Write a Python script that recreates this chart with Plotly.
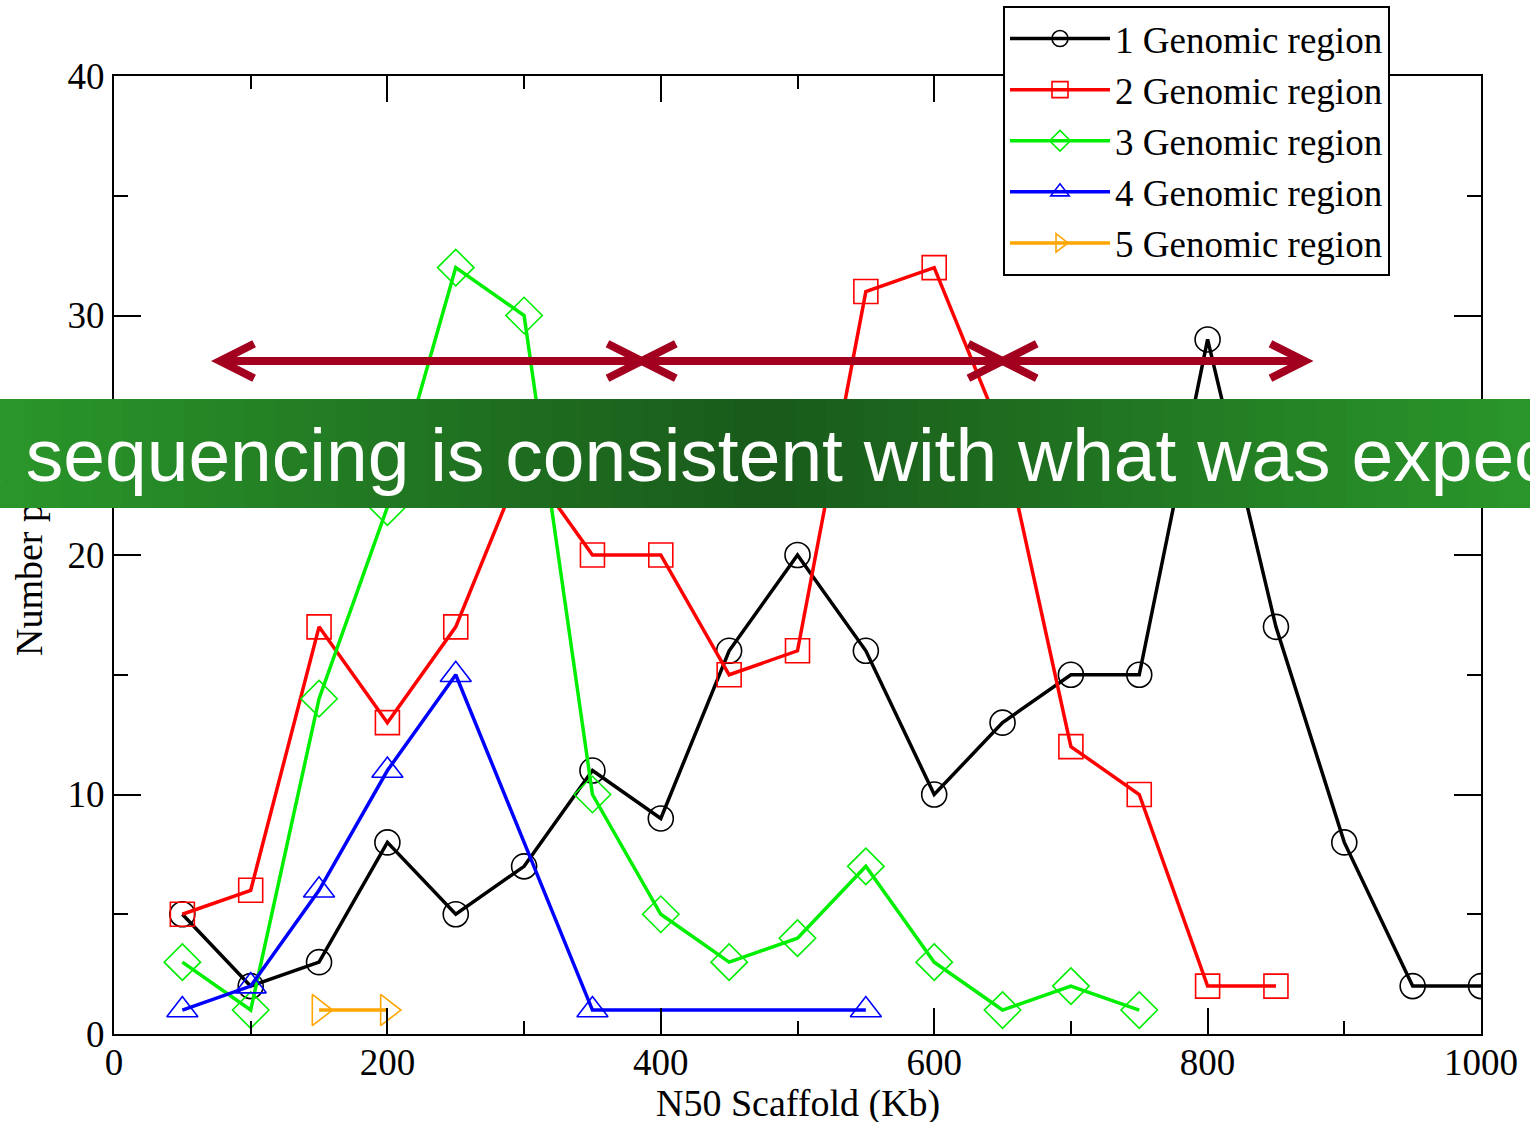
import plotly.graph_objects as go

# ---------------- data ----------------
x1 = [50, 100, 150, 200, 250, 300, 350, 400, 450, 500, 550, 600, 650, 700, 750, 800, 850, 900, 950, 1000]
y1 = [5, 2, 3, 8, 5, 7, 11, 9, 16, 20, 16, 10, 13, 15, 15, 29, 17, 8, 2, 2]

x2 = [50, 100, 150, 200, 250, 300, 350, 400, 450, 500, 550, 600, 650, 700, 750, 800, 850]
y2 = [5, 6, 17, 13, 17, 24, 20, 20, 15, 16, 31, 32, 25, 12, 10, 2, 2]

x3 = [50, 100, 150, 200, 250, 300, 350, 400, 450, 500, 550, 600, 650, 700, 750]
y3 = [3, 1, 14, 22, 32, 30, 10, 5, 3, 4, 7, 3, 1, 2, 1]

x4 = [50, 100, 150, 200, 250, 350, 550]
y4 = [1, 2, 6, 11, 15, 1, 1]

x5 = [150, 200]
y5 = [1, 1]

series_names = ["1 Genomic region", "2 Genomic region", "3 Genomic region",
                "4 Genomic region", "5 Genomic region"]

# range arrows (data units)
arrow_x0 = [77.5, 386, 650]
arrow_x1 = [386, 650, 871]
arrow_y = 28.1

banner_text = "Assembly obtained with combined sequencing is consistent with what was expected"
x_title = "N50 Scaffold (Kb)"
y_title = "Number pairs"

# ---------------- figure ----------------
SERIF = "Liberation Serif, Times New Roman, serif"
W, H = 1530, 1122
L, R, T, B = 114, 1481, 76, 1034


def px2paper(px):
    return (px - L) / (R - L)


def py2paper(py):
    return (B - py) / (B - T)


fig = go.Figure()

styles = [
    ("#000000", "circle-open", 25),
    ("#ff0000", "square-open", 24),
    ("#00ee00", "diamond-open", 28),
    ("#0000ff", "triangle-up-open", 27),
    ("#ffa500", "triangle-right-open", 27),
]
for (xs, ys), name, (col, sym, sz) in zip(
        [(x1, y1), (x2, y2), (x3, y3), (x4, y4), (x5, y5)], series_names, styles):
    fig.add_trace(go.Scatter(
        x=xs, y=ys, name=name, mode="lines+markers",
        line=dict(color=col, width=3.5),
        marker=dict(symbol=sym, size=sz, color=col, line=dict(color=col, width=1.6)),
    ))

shapes = []
# arrows
ARC = "#a3001f"
hx, hy = 25.0, 0.72  # chevron arm extents in data units
for a, b in zip(arrow_x0, arrow_x1):
    shapes.append(dict(type="line", xref="x", yref="y", x0=a + 2, x1=b - 2,
                       y0=arrow_y, y1=arrow_y, line=dict(color=ARC, width=8), layer="above"))
    shapes.append(dict(type="path", xref="x", yref="y",
                       path=f"M{a+hx},{arrow_y+hy} L{a},{arrow_y} L{a+hx},{arrow_y-hy}",
                       line=dict(color=ARC, width=8), layer="above"))
    shapes.append(dict(type="path", xref="x", yref="y",
                       path=f"M{b-hx},{arrow_y+hy} L{b},{arrow_y} L{b-hx},{arrow_y-hy}",
                       line=dict(color=ARC, width=8), layer="above"))

annotations = [
    dict(text=x_title, xref="paper", yref="paper", x=0.5, y=py2paper(1103),
         xanchor="center", yanchor="middle", showarrow=False,
         font=dict(family=SERIF, size=38, color="black")),
    dict(text=y_title, xref="paper", yref="paper", x=px2paper(29), y=py2paper(552),
         xanchor="center", yanchor="middle", showarrow=False, textangle=-90,
         font=dict(family=SERIF, size=38, color="black")),
]

# green gradient banner (strips drawn as annotation boxes so they cover the axis title)
N = 50
c_edge = (42, 150, 42)
c_mid = (25, 90, 27)
band_top, band_bot = 399, 508
for i in range(N):
    t = (i + 0.5) / N
    w = 1 - abs(t - 0.5) * 2
    c = tuple(int(round(c_edge[k] + (c_mid[k] - c_edge[k]) * w)) for k in range(3))
    p0 = W * i / N
    sw = W / N + 2
    annotations.append(dict(text=" ", xref="paper", yref="paper",
                            x=px2paper(p0), y=py2paper(band_top), xanchor="left", yanchor="top",
                            width=sw, height=band_bot - band_top, borderpad=0, borderwidth=0,
                            bgcolor=f"rgb{c}", showarrow=False, font=dict(size=10)))

annotations.append(dict(text=banner_text, xref="paper", yref="paper", x=px2paper(1658),
                        y=py2paper(455), xanchor="right", yanchor="middle", showarrow=False,
                        font=dict(family="Liberation Sans, Arial, sans-serif", size=75, color="white")))

axis_common = dict(
    showgrid=False, zeroline=False, showline=True, linecolor="black", linewidth=2,
    mirror="ticks", ticks="inside", tickcolor="black", tickwidth=2,
    tickfont=dict(family=SERIF, size=37, color="black"),
)
fig.update_xaxes(range=[0, 1000], dtick=200, tick0=0, ticklen=26, ticklabelstandoff=-5,
                 minor=dict(ticks="inside", dtick=100, ticklen=13, tickcolor="black", tickwidth=2),
                 **axis_common)
fig.update_yaxes(range=[0, 40], dtick=10, tick0=0, ticklen=27,
                 minor=dict(ticks="inside", dtick=5, ticklen=14, tickcolor="black", tickwidth=2),
                 **axis_common)

fig.update_layout(
    width=W, height=H,
    margin=dict(l=L, r=W - R, t=T, b=H - B, autoexpand=False),
    plot_bgcolor="white", paper_bgcolor="white",
    shapes=shapes, annotations=annotations,
    showlegend=True,
    legend=dict(xref="container", yref="container", x=1003 / W, y=1 - 6 / H,
                xanchor="left", yanchor="top",
                bgcolor="white", bordercolor="black", borderwidth=2,
                font=dict(family=SERIF, size=37, color="black"),
                itemwidth=100, tracegroupgap=0),
)

fig.write_html("out.html")
